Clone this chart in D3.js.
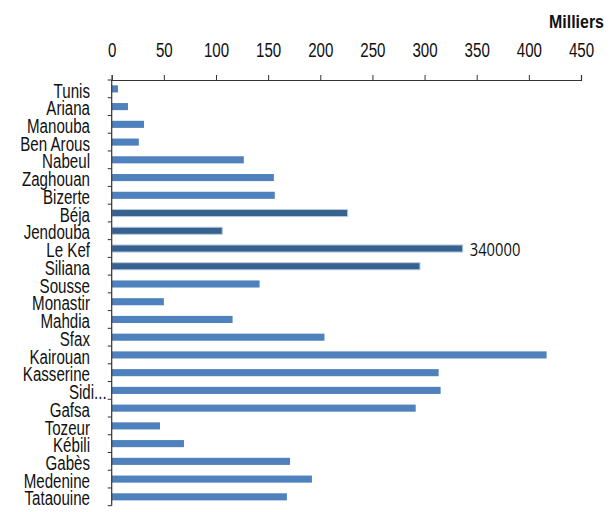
<!DOCTYPE html>
<html><head><meta charset="utf-8">
<script src="https://cdn.jsdelivr.net/npm/d3@7"></script>
<style>body{margin:0;background:#fff}svg{display:block}</style>
</head><body>
<svg id="c" width="611" height="512"></svg>
<script>
const categories = ["Tunis","Ariana","Manouba","Ben Arous","Nabeul","Zaghouan","Bizerte","Béja","Jendouba","Le Kef","Siliana","Sousse","Monastir","Mahdia","Sfax","Kairouan","Kasserine","Sidi...","Gafsa","Tozeur","Kébili","Gabès","Medenine","Tataouine"];
const values = [6,15.6,31,26,126.7,155.5,156.4,226.3,106,336.6,295.6,141.8,50,115.9,204,417,313.5,315.4,291.5,46.3,69.3,171,192,168];
const highlighted = ["Béja","Jendouba","Le Kef","Siliana"];
const xTicks = [0,50,100,150,200,250,300,350,400,450];
const unitLabel = "Milliers";
const annotation = {category:"Le Kef", text:"340000"};

const font = "'Liberation Sans Narrow','Arial Narrow','Liberation Sans',Arial,sans-serif";
const SX = 0.72;
const svg = d3.select("#c");
const x = d3.scaleLinear().domain([0,450]).range([111.7,581]);
const y = d3.scaleBand().domain(categories).range([80,505.7]).paddingInner(0.6).paddingOuter(0.3);
const yb = d3.scaleBand().domain(categories).range([80,505.7]);

// bars
svg.append("g").selectAll("rect").data(categories).join("rect")
  .attr("x", x(0))
  .attr("y", d => y(d))
  .attr("width", (d,i) => x(values[i]) - x(0))
  .attr("height", y.bandwidth())
  .attr("fill", d => highlighted.includes(d) ? "#37618f" : "#4f81bd")
  .attr("stroke", d => highlighted.includes(d) ? "#b9cde3" : "none")
  .attr("stroke-width", 1);

// top axis
const xa = svg.append("g").attr("transform","translate(0,80)")
  .call(d3.axisTop(x).tickValues(xTicks).tickSize(5).tickPadding(18).tickFormat(d3.format("d")));
xa.select(".domain").attr("stroke","#333").attr("stroke-width",1.2);
xa.selectAll(".tick line").attr("stroke","#333");
xa.selectAll("text").attr("font-family",font).attr("font-size",21).attr("fill","#111")
  .attr("transform",`scale(${SX},1)`);

// left axis
const ya = svg.append("g").attr("transform",`translate(${x(0)},0)`);
ya.append("line").attr("x1",0).attr("x2",0).attr("y1",80).attr("y2",505.7).attr("stroke","#333").attr("stroke-width",1.2);
const bounds = categories.map(c => yb(c)).concat([yb(categories[categories.length-1]) + yb.bandwidth()]);
ya.selectAll("line.t").data(bounds).join("line").attr("class","t")
  .attr("x1",-4).attr("x2",0).attr("y1",d=>d).attr("y2",d=>d).attr("stroke","#333");
ya.selectAll("text").data(categories).join("text")
  .attr("transform", d => `translate(${d.endsWith("...") ? -5 : -21.7},${yb(d) + yb.bandwidth()/2 + 1.3}) scale(${SX},1)`)
  .attr("dy","0.35em").attr("text-anchor","end")
  .attr("font-family",font).attr("font-size",21).attr("fill","#111")
  .text(d => d);

// unit label
svg.append("text").attr("transform","translate(604,28) scale(0.84,1)").attr("text-anchor","end")
  .attr("font-family",font).attr("font-weight","bold").attr("font-size",19).attr("fill","#111")
  .text(unitLabel);

// annotation
const ai = categories.indexOf(annotation.category);
svg.append("text")
  .attr("transform", `translate(${x(values[ai]) + 7},${y(annotation.category) + y.bandwidth()/2 + 1.5}) scale(0.82,1)`)
  .attr("dy","0.35em").attr("font-family","'Open Sans','Liberation Sans',sans-serif").attr("font-size",18).attr("fill","#111")
  .text(annotation.text);
</script>
</body></html>
